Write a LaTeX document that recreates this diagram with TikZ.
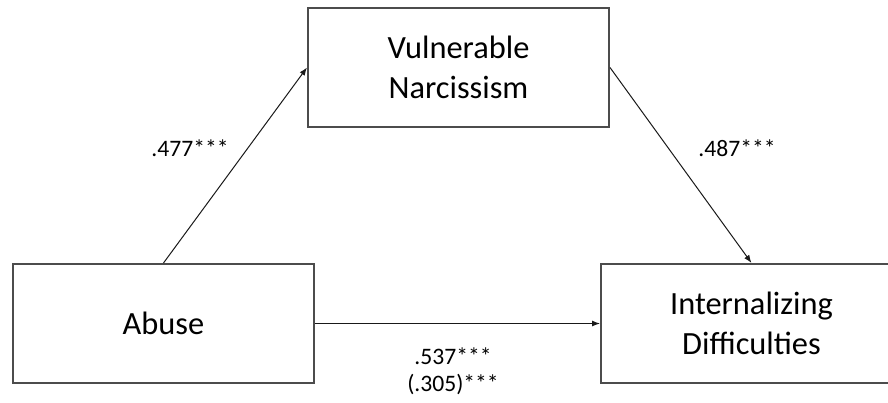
\documentclass[tikz,border=0pt]{standalone}
\usepackage{fontspec}
\setmainfont{Carlito}
\usetikzlibrary{positioning,arrows.meta}

\begin{document}
\begin{tikzpicture}[x=0.5pt,y=-0.5pt,>={Latex[length=4pt,width=3pt]},
    var node/.style={draw=black!70,line width=1pt,minimum width=150.5pt,minimum height=59.5pt,inner sep=0pt,align=center,font=\fontsize{16.2}{20}\selectfont},
    path label/.style={font=\fontsize{11.8}{13.7}\selectfont,align=center,inner sep=0pt},
    path/.style={->,line width=0.5pt,black!90}]

            \useasboundingbox (0,0) rectangle (888,402);
            \clip (0,0) rectangle (888,402);

            \node[var node] (abuse) at (163.5,323.5) {Abuse};
            \node[var node] (vn) [above right=67.5pt and -4pt of abuse.north east, anchor=south west] {Vulnerable\\Narcissism};
            \node[var node] (id) [right=142.5pt of abuse] {Internalizing\\Difficulties};

            \draw[path] (abuse.north) -- (vn.west);
            \draw[path] (vn.east) -- (id.north);
            \draw[path] (abuse.east) -- (id.west);

            \node[path label] (a) at (190,148) {.477***};
            \node[path label] (b) at (737,148) {.487***};
            \node[path label] (c) at (453,371) {.537***\\(.305)***};
        \end{tikzpicture}
\end{document}
